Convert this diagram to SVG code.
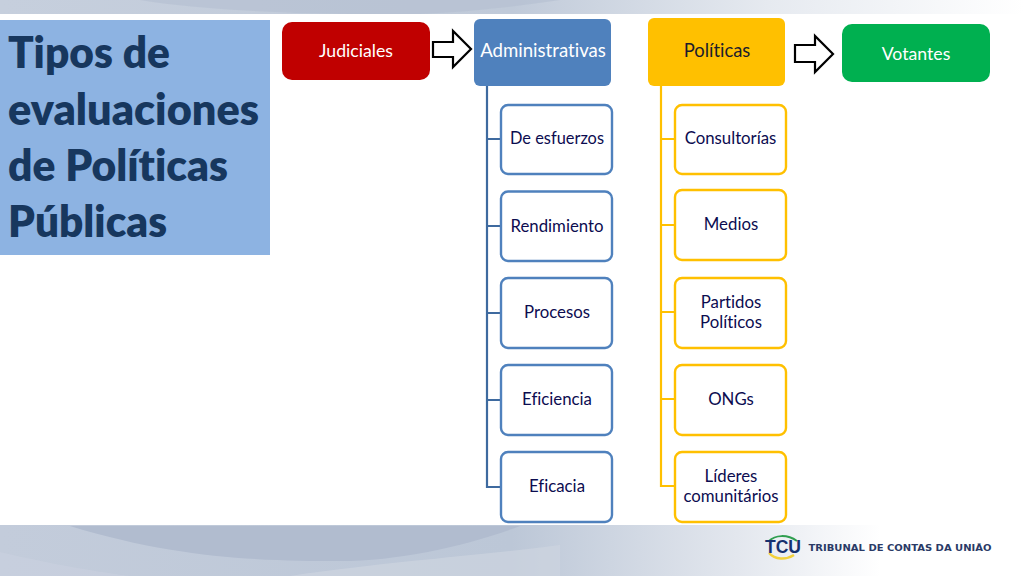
<svg xmlns="http://www.w3.org/2000/svg" width="1024" height="576" viewBox="0 0 1024 576">
<defs>
<linearGradient id="band" x1="0" y1="0" x2="1" y2="0"><stop offset="0" stop-color="#c3ccdb"/><stop offset="0.5" stop-color="#bcc7d7"/><stop offset="0.72" stop-color="#e3e7ee"/><stop offset="0.86" stop-color="#ffffff"/></linearGradient>
<linearGradient id="bandTop" x1="0" y1="0" x2="1" y2="0"><stop offset="0" stop-color="#c6cfdd"/><stop offset="0.5" stop-color="#c0cad9"/><stop offset="0.75" stop-color="#e6eaf0"/><stop offset="1" stop-color="#ffffff"/></linearGradient>
</defs>
<style>
text{font-family:Lato,"Open Sans","Liberation Sans",sans-serif;text-anchor:middle;font-variant-ligatures:none}
.t{font-size:16.8px;fill:#0c0c50}
.w{font-size:17.7px;fill:#ffffff}
.title{font-size:44px;font-weight:800;fill:#17375e;text-anchor:start}
.b{fill:#fff;stroke:#4f81bd;stroke-width:2.4}
.y{fill:#fff;stroke:#ffc000;stroke-width:2.4}
.arrow{fill:#fff;stroke:#000;stroke-width:2.2}
.cb{fill:none;stroke:#3e6a9f;stroke-width:2.2}
.cy{fill:none;stroke:#ffc000;stroke-width:2.2}
</style>
<rect width="1024" height="576" fill="#fff"/>
<g id="background">
<rect x="0" y="0" width="1024" height="14" fill="url(#bandTop)"/>
<path d="M140 0C200 10 300 14 360 14L420 14C470 12 520 6 560 0Z" fill="#b2bed0" opacity=".55"/>
<rect x="0" y="525" width="1024" height="51" fill="url(#band)"/>
<path d="M70 526C180 560 270 561 340 561C400 561 470 545 520 526Z" fill="#b1bccf"/>
<path d="M0 552C60 566 100 572 130 576L0 576Z" fill="#c9d1df" opacity=".6"/>
<path d="M290 576C400 560 480 556 560 545L560 576Z" fill="#cdd4e0" opacity=".7"/>
</g>
<g id="logo">
<path d="M769 541C775 535 787 534 797 541" fill="none" stroke="#2f9e4f" stroke-width="2"/>
<path d="M769 553C775 560 786 560 794 555" fill="none" stroke="#f2d13c" stroke-width="2.4"/>
<text x="783" y="553" style="font-family:'Liberation Sans',sans-serif;font-size:18px;font-weight:700;fill:#16306e" textLength="36" lengthAdjust="spacingAndGlyphs">TCU</text>
<text x="900" y="551" style="font-family:'DejaVu Sans',sans-serif;font-size:9px;font-weight:700;fill:#2a3a66" textLength="183" lengthAdjust="spacingAndGlyphs">TRIBUNAL DE CONTAS DA UNIÃO</text>
</g>
<g id="title">
<rect x="0" y="20" width="270" height="235" fill="#8db3e2"/>
<text class="title" x="8" y="68" textLength="162" lengthAdjust="spacingAndGlyphs">Tipos de</text>
<text class="title" x="8" y="125" textLength="251" lengthAdjust="spacingAndGlyphs">evaluaciones</text>
<text class="title" x="8" y="181" textLength="220" lengthAdjust="spacingAndGlyphs">de Políticas</text>
<text class="title" x="8" y="237" textLength="159" lengthAdjust="spacingAndGlyphs">Públicas</text>
</g>
<g id="connectors">
<path class="cb" d="M487 86V487H501M487 139H501M487 226H501M487 313H501M487 400H501"/>
<path class="cy" d="M661 86V486H675M661 139H675M661 225H675M661 312H675M661 399H675"/>
<path id="arrow1" class="arrow" d="M433 42H453V31L471 49L453 67V57H433Z"/>
<path id="arrow2" class="arrow" d="M795 45H815V36L833 54L815 72V62H795Z"/>
</g>
<g id="judiciales"><rect x="282" y="22" width="148" height="58" rx="10" fill="#c00000"/><text class="w" x="356" y="57">Judiciales</text></g>
<g id="administrativas"><rect x="474" y="19" width="137" height="67" rx="6" fill="#4f81bd"/><text class="w" x="543" y="57" style="font-size:18.6px">Administrativas</text></g>
<g id="politicas"><rect x="648" y="18" width="137" height="68" rx="6" fill="#ffc000"/><text x="717" y="57" style="font-size:18.4px;fill:#1c1c2c">Políticas</text></g>
<g id="votantes"><rect x="842" y="24" width="148" height="58" rx="10" fill="#00b050"/><text class="w" x="916" y="60">Votantes</text></g>
<g id="esfuerzos"><rect class="b" x="501" y="105" width="111" height="69" rx="7"/><text class="t" x="557" y="144" textLength="94" lengthAdjust="spacingAndGlyphs">De esfuerzos</text></g>
<g id="rendimiento"><rect class="b" x="501" y="191.500" width="111" height="69.500" rx="7"/><text class="t" x="557" y="232">Rendimiento</text></g>
<g id="procesos"><rect class="b" x="501" y="278" width="111" height="70" rx="7"/><text class="t" x="557" y="318">Procesos</text></g>
<g id="eficiencia"><rect class="b" x="501" y="365" width="111" height="70" rx="7"/><text class="t" x="557" y="405">Eficiencia</text></g>
<g id="eficacia"><rect class="b" x="501" y="452" width="111" height="70" rx="7"/><text class="t" x="557" y="492">Eficacia</text></g>
<g id="consultorias"><rect class="y" x="675" y="105" width="111" height="69" rx="7"/><text class="t" x="730.500" y="144">Consultorías</text></g>
<g id="medios"><rect class="y" x="675" y="190" width="111" height="70" rx="7"/><text class="t" x="731" y="230">Medios</text></g>
<g id="partidos"><rect class="y" x="675" y="278" width="111" height="70" rx="7"/><text class="t" x="731" y="308">Partidos</text><text class="t" x="731" y="328">Políticos</text></g>
<g id="ongs"><rect class="y" x="675" y="365" width="111" height="70" rx="7"/><text class="t" x="731" y="405">ONGs</text></g>
<g id="lideres"><rect class="y" x="675" y="452" width="111" height="70" rx="7"/><text class="t" x="731" y="482">Líderes</text><text class="t" x="731" y="502">comunitários</text></g>
</svg>
